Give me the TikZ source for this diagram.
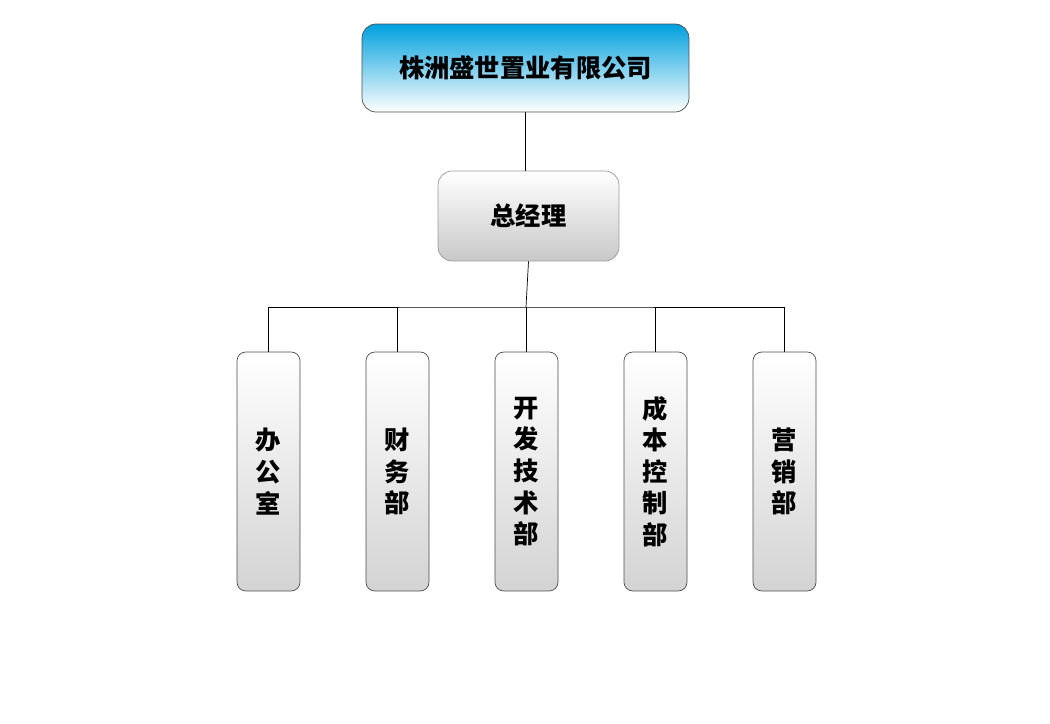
\documentclass[tikz,border=0pt]{standalone}
\usepackage{fontspec}
\newfontfamily\cjk{Noto Sans CJK SC}
\begin{document}
\begin{tikzpicture}[x=0.02cm,y=-0.02cm]
\useasboundingbox (0,0) rectangle (1050,723);
\definecolor{topblue}{RGB}{0,160,222}
\definecolor{grayb}{RGB}{200,200,200}
\tikzset{
 topbox/.style={draw=black!70,rounded corners=8pt,top color=topblue,bottom color=white,minimum width=6.54cm,minimum height=1.76cm,font=\cjk\Large\bfseries},
 gmbox/.style={draw=black!40,rounded corners=8pt,top color=white,bottom color=grayb,minimum width=3.62cm,minimum height=1.8cm,font=\cjk\Large\bfseries},
 dept/.style={draw=black!70,rounded corners=5pt,top color=white,bottom color=grayb!80,minimum width=1.26cm,minimum height=4.78cm,font=\cjk\Large\bfseries,align=center},
 conn/.style={draw=black}
}
\node[topbox] (co) at (525.5,68) {株洲盛世置业有限公司};
\node[gmbox] (gm) at (528.5,216) {总经理};
\node[dept] (d1) at (268.5,471.5) {办\\公\\室};
\node[dept] (d2) at (397.5,471.5) {财\\务\\部};
\node[dept] (d3) at (526.5,471.5) {开\\发\\技\\术\\部};
\node[dept] (d4) at (655.5,471.5) {成\\本\\控\\制\\部};
\node[dept] (d5) at (784.5,471.5) {营\\销\\部};
\coordinate (bus) at (526,307);
\draw[conn,line width=1pt] (co.south) -- (co.south |- gm.north);
\draw[conn] (gm.south) -- (bus);
\draw[conn] (d1.north) |- (bus) -| (d5.north);
\foreach \d in {d2,d3,d4} \draw[conn] (\d.north) -- (\d.north |- bus);
\end{tikzpicture}
\end{document}
